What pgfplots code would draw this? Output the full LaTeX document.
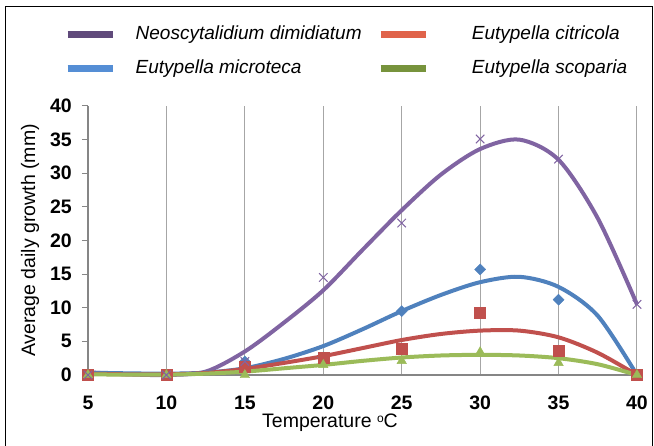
\documentclass[border=0pt]{standalone}
\usepackage{pgfplots}
\pgfplotsset{compat=1.18}
\usepackage{fontspec}
\setmainfont{Liberation Sans}
\definecolor{cpur}{HTML}{8064A2}
\definecolor{cblu}{HTML}{4F81BD}
\definecolor{cred}{HTML}{C0504D}
\definecolor{cgrn}{HTML}{9BBB59}
\definecolor{lpur}{HTML}{604A7B}
\definecolor{lred}{HTML}{E0634A}
\definecolor{lblu}{HTML}{558ED5}
\definecolor{lgrn}{HTML}{77933C}
\definecolor{gridc}{HTML}{A6A6A6}
\definecolor{axc}{HTML}{868686}
\pgfplotsset{
  legA/.style={legend image code/.code={\draw[##1,line width=7pt] (0pt,0pt) -- (45pt,0pt); \path (68pt,0pt);}},
}
\pgfplotstableread{
x y
5 0.4
7.5 0.1
10 0
12.5 0.5
15 3.5
17.5 7.8
20 12.6
22.5 18.6
25 24.5
27.5 29.8
30 33.6
32.5 35.0
35 32.0
37.5 23.3
40 10.5
}\curveNeo
\pgfplotstableread{
x y
5 0.35
7.5 0.25
10 0.2
12.5 0.35
15 1.0
17.5 2.4
20 4.3
22.5 6.8
25 9.5
27.5 11.9
30 13.8
32.5 14.6
35 13.1
37.5 8.8
40 0
}\curveMic
\pgfplotstableread{
x y
5 0.2
7.5 0.1
10 0.1
12.5 0.3
15 0.9
17.5 1.8
20 2.8
22.5 4.0
25 5.2
27.5 6.1
30 6.6
32.5 6.6
35 5.6
37.5 3.3
40 0
}\curveCit
\pgfplotstableread{
x y
5 0.1
7.5 0.05
10 0.05
12.5 0.2
15 0.5
17.5 1.0
20 1.5
22.5 2.1
25 2.6
27.5 2.9
30 3.0
32.5 2.9
35 2.5
37.5 1.6
40 0
}\curveSco
\pgfplotstableread{
x neo mic cit sco
5 0 0 0 0
10 0 0 0 0
15 2.0 2.0 1.2 0
20 14.5 2.6 2.6 1.5
25 22.6 9.5 3.9 2.1
30 35.1 15.7 9.3 3.4
35 32.1 11.2 3.6 1.8
40 10.5 0 0 0
}\pts
\begin{document}
\fontsize{19}{23}\selectfont
\begin{tikzpicture}[x=1pt,y=1pt]
\path[use as bounding box] (0,0) rectangle (654,446);
\draw[black,line width=1pt] (5,0) -- (5,439) -- (652,439) -- (652,0);
\begin{axis}[
  at={(88pt,71pt)}, anchor=south west,
  scale only axis, width=549pt, height=269pt,
  xmin=5, xmax=40, ymin=0, ymax=40,
  xtick={5,10,...,40}, ytick={0,5,...,40},
  axis x line*=bottom, axis y line*=left,
  axis line style={axc, line width=1.2pt},
  xmajorgrids, major x grid style={gridc, line width=1pt},
  x tick style={draw=none},
  y tick style={axc, line width=1pt},
  tick align=outside, major tick length=6pt,
  /pgf/number format/assume math mode=true,
  ticklabel style={font=\fontsize{19.5}{23}\selectfont\bfseries},
  xticklabel style={inner sep=0pt, anchor=north, yshift=-15pt},
  yticklabel style={inner sep=0pt, anchor=east, xshift=-10pt},
  xlabel={Temperature \raisebox{0.55ex}{\fontsize{12}{12}\selectfont o}C},
  ylabel={Average daily growth (mm)},
  label style={font=\fontsize{19.5}{23}\selectfont},
  xlabel style={at={(axis description cs:0.4408,0)}, anchor=center, yshift=-48pt},
  ylabel style={at={(axis description cs:0,0.5)}, anchor=center, yshift=58pt},
  clip=false,
  legend columns=2,
  legend style={at={(axis description cs:-0.0437,1.2974)}, anchor=north west,
    draw=none, fill=none, inner sep=0pt, outer sep=0pt,
    column sep=0pt, row sep=17.5pt,
    nodes={inner sep=0pt},
    font=\fontsize{19}{23}\selectfont\itshape},
  legend cell align=left,
]
\addlegendimage{legA, color=lpur}
\addlegendentry{\makebox[241.5pt][l]{Neoscytalidium dimidiatum}}
\addlegendimage{legA, color=lred}
\addlegendentry{\hspace*{23pt}Eutypella citricola}
\addlegendimage{legA, color=lblu}
\addlegendentry{\makebox[241.5pt][l]{Eutypella microteca}}
\addlegendimage{legA, color=lgrn}
\addlegendentry{\hspace*{23pt}Eutypella scoparia}

\addplot[cpur, line width=4pt, smooth, no marks, forget plot] table {\curveNeo};
\addplot[cblu, line width=4pt, smooth, no marks, forget plot] table {\curveMic};
\addplot[cred, line width=4pt, smooth, no marks, forget plot] table {\curveCit};
\addplot[cgrn, line width=4pt, smooth, no marks, forget plot] table {\curveSco};

\addplot[only marks, mark=square*, mark size=3.9pt, mark options={rotate=45, fill=cblu, draw=cblu}, forget plot] table[x=x,y=mic] {\pts};
\addplot[only marks, mark=square*, mark size=5.5pt, mark options={fill=cred, draw=cred}, forget plot] table[x=x,y=cit] {\pts};
\addplot[only marks, mark=triangle*, mark size=5.5pt, mark options={fill=cgrn, draw=cgrn}, forget plot] table[x=x,y=sco] {\pts};
\addplot[only marks, mark=x, mark size=6pt, mark options={draw=cpur, line width=1pt}, forget plot] table[x=x,y=neo] {\pts};
\end{axis}
\end{tikzpicture}
\end{document}
